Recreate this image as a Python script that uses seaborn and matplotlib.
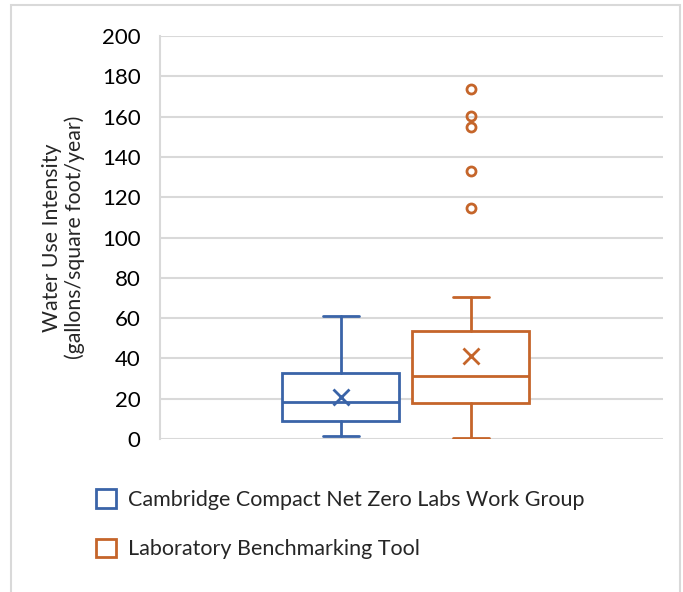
import matplotlib
matplotlib.use('Agg')
import matplotlib.pyplot as plt
import matplotlib.patches as mpatches
import seaborn as sns

# Box statistics (gallons/sq ft/year)
groups = ['Cambridge Compact Net Zero Labs Work Group', 'Laboratory Benchmarking Tool']
colors = ['#3A64A8', '#C5652A']
whislo = [1.5, 0.4]
q1 = [9.0, 17.8]
med = [18.4, 31.2]
q3 = [32.9, 53.7]
whishi = [61.2, 70.6]
means = [20.8, 41.4]
fliers = [[], [114.6, 133.0, 155.0, 160.5, 173.5]]
yticks = [0, 20, 40, 60, 80, 100, 120, 140, 160, 180, 200]

sns.set_style('white')
plt.rcParams['font.family'] = ['Lato', 'DejaVu Sans']

fig = plt.figure(figsize=(6.83, 5.92), dpi=100)
ax = fig.add_axes([160 / 683, 1 - 439 / 592, 503 / 683, 403 / 592])

grid_c = '#D9D9D9'
ax.set_ylim(0, 200)
ax.set_yticks(yticks)
ax.yaxis.grid(True, color=grid_c, lw=1.5)
ax.set_axisbelow(True)
ax.set_xlim(-0.392, 3.477)

for i, c in enumerate(colors):
    stats = [{
        'label': groups[i], 'whislo': whislo[i], 'q1': q1[i], 'med': med[i],
        'q3': q3[i], 'whishi': whishi[i], 'mean': means[i], 'fliers': fliers[i],
    }]
    lp = dict(color=c, lw=2)
    ax.bxp(stats, positions=[i + 1], widths=0.9, capwidths=0.27,
           showmeans=True, showfliers=True, patch_artist=True,
           boxprops=dict(facecolor='white', edgecolor=c, lw=2),
           whiskerprops=lp, capprops=lp, medianprops=lp,
           meanprops=dict(marker='x', markeredgecolor=c, markersize=12, markeredgewidth=2),
           flierprops=dict(marker='o', markerfacecolor='none', markeredgecolor=c,
                           markersize=6.5, markeredgewidth=2))

ax.set_xticks([])
for s in ['top', 'right', 'bottom']:
    ax.spines[s].set_visible(False)
ax.spines['left'].set_color(grid_c)
ax.spines['left'].set_linewidth(1.5)
ax.tick_params(axis='y', length=0, pad=14, labelsize=16, labelcolor='black')
ax.set_ylabel('Water Use Intensity\n(gallons/square foot/year)', fontsize=15.3, labelpad=12,
              linespacing=1.15)

handles = [mpatches.Patch(facecolor='white', edgecolor=c, lw=2) for c in colors]
fig.legend(handles, groups, loc='upper left', bbox_to_anchor=(96 / 683, 1 - 489 / 592),
           frameon=False, fontsize=15.5, handlelength=0.95, handleheight=0.95,
           handletextpad=0.55, labelspacing=1.35, borderpad=0, borderaxespad=0)

# outer chart border
fig.add_artist(mpatches.Rectangle((11 / 683, -0.1), 669 / 683, 1.1 - 5 / 592,
                                  transform=fig.transFigure, fill=False,
                                  edgecolor=grid_c, lw=1.5))

fig.savefig('out.png', dpi=100)
